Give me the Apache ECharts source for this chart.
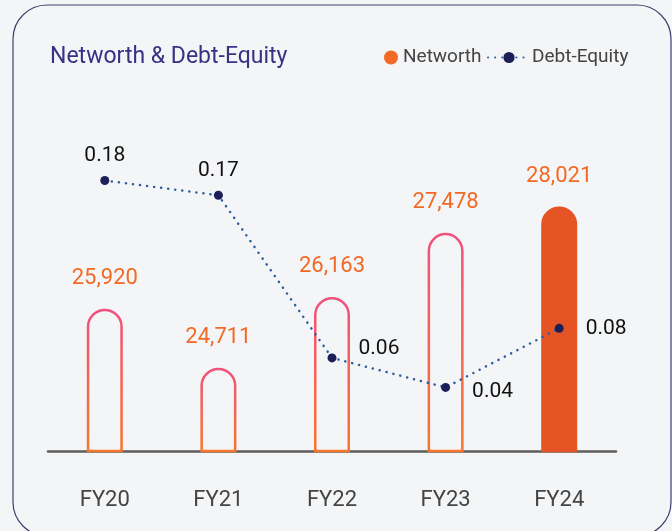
<!DOCTYPE html>
<html>
<head>
<meta charset="utf-8">
<script src="https://cdn.jsdelivr.net/npm/echarts@6/dist/echarts.min.js"></script>
<style>
  html, body { margin: 0; padding: 0; background: #f4f5f7; }
  #chart { width: 672px; height: 531px; }
</style>
</head>
<body>
<div id="chart"></div>
<script>
  // data
  const years = ['FY20', 'FY21', 'FY22', 'FY23', 'FY24']
  const networth = [25920, 24711, 26163, 27478, 28021]
  const debtEquity = [0.18, 0.17, 0.06, 0.04, 0.08]

  const fontFamily = 'Roboto, "Noto Sans", sans-serif'
  const outlineGradient = new echarts.graphic.LinearGradient(0, 0, 0, 1, [
    { offset: 0, color: '#f0517e' },
    { offset: 1, color: '#f8762b' }
  ])
  // label placement of the ratio labels, by index
  const ratioLabel = [
    { position: 'top', distance: 10, offset: [0, 0] },
    { position: 'top', distance: 10, offset: [0, 0] },
    { position: 'right', distance: 22, offset: [0, -9] },
    { position: 'right', distance: 22, offset: [0, 4] },
    { position: 'right', distance: 22, offset: [0, 0] }
  ]

  const chart = echarts.init(document.getElementById('chart'))
  chart.setOption({
    backgroundColor: '#f4f5f7',
    textStyle: { fontFamily },
    graphic: [{
      type: 'rect',
      z: -10,
      silent: true,
      shape: { x: 13, y: 5, width: 658, height: 531, r: 34 },
      style: { fill: '#f4f5f7', stroke: '#3d416f', lineWidth: 1.2 }
    }],
    title: {
      text: 'Networth & Debt-Equity',
      left: 45,
      top: 41,
      textStyle: { color: '#3b2f86', fontSize: 23, fontWeight: 'normal', fontFamily }
    },
    legend: [{
      data: [{ name: 'Networth', icon: 'circle', itemStyle: { color: '#f26a25', borderWidth: 0 } }],
      left: 379,
      top: 43,
      itemWidth: 14,
      itemHeight: 14,
      itemGap: 6,
      textStyle: { color: '#444', fontSize: 19, fontFamily }
    }, {
      data: ['Debt-Equity'],
      left: 482,
      top: 43,
      itemWidth: 42,
      itemHeight: 14,
      textStyle: { color: '#444', fontSize: 19, fontFamily, padding: [0, 0, 0, -3] }
    }],
    grid: { left: 48, right: 56, top: 110, bottom: 80 },
    xAxis: {
      type: 'category',
      data: years,
      axisLine: { onZero: false, lineStyle: { color: '#5d5d5d', width: 2.5 } },
      axisTick: { show: false },
      axisLabel: { color: '#444', fontSize: 22, margin: 38, fontFamily }
    },
    yAxis: [
      { type: 'value', min: 23000, max: 30000, show: false },
      { type: 'value', min: -0.003, max: 0.2277, show: false }
    ],
    series: [{
      name: 'Networth',
      type: 'bar',
      barWidth: 36,
      z: 1,
      data: networth.map((v, i) => ({
        value: v,
        itemStyle: i === networth.length - 1
          ? { color: '#e55424', borderColor: '#e55424' }
          : { color: 'rgba(0,0,0,0)', borderColor: outlineGradient }
      })),
      itemStyle: { borderWidth: 2.5, borderRadius: [18, 18, 0, 0] },
      label: {
        show: true,
        position: 'top',
        distance: 19,
        color: '#f26a25',
        fontSize: 22,
        fontFamily,
        formatter: p => p.value.toLocaleString('en-US')
      }
    }, {
      name: 'Debt-Equity',
      type: 'line',
      yAxisIndex: 1,
      z: 3,
      symbol: 'circle',
      symbolSize: 9,
      itemStyle: { color: '#1c1f58' },
      lineStyle: { color: '#2d5d9e', width: 2.5, type: [0.1, 7], cap: 'round' },
      data: debtEquity.map((v, i) => ({ value: v, label: ratioLabel[i] })),
      label: {
        show: true,
        color: '#111',
        fontSize: 21,
        fontFamily,
        formatter: p => p.value.toFixed(2)
      }
    }]
  })
</script>
</body>
</html>
